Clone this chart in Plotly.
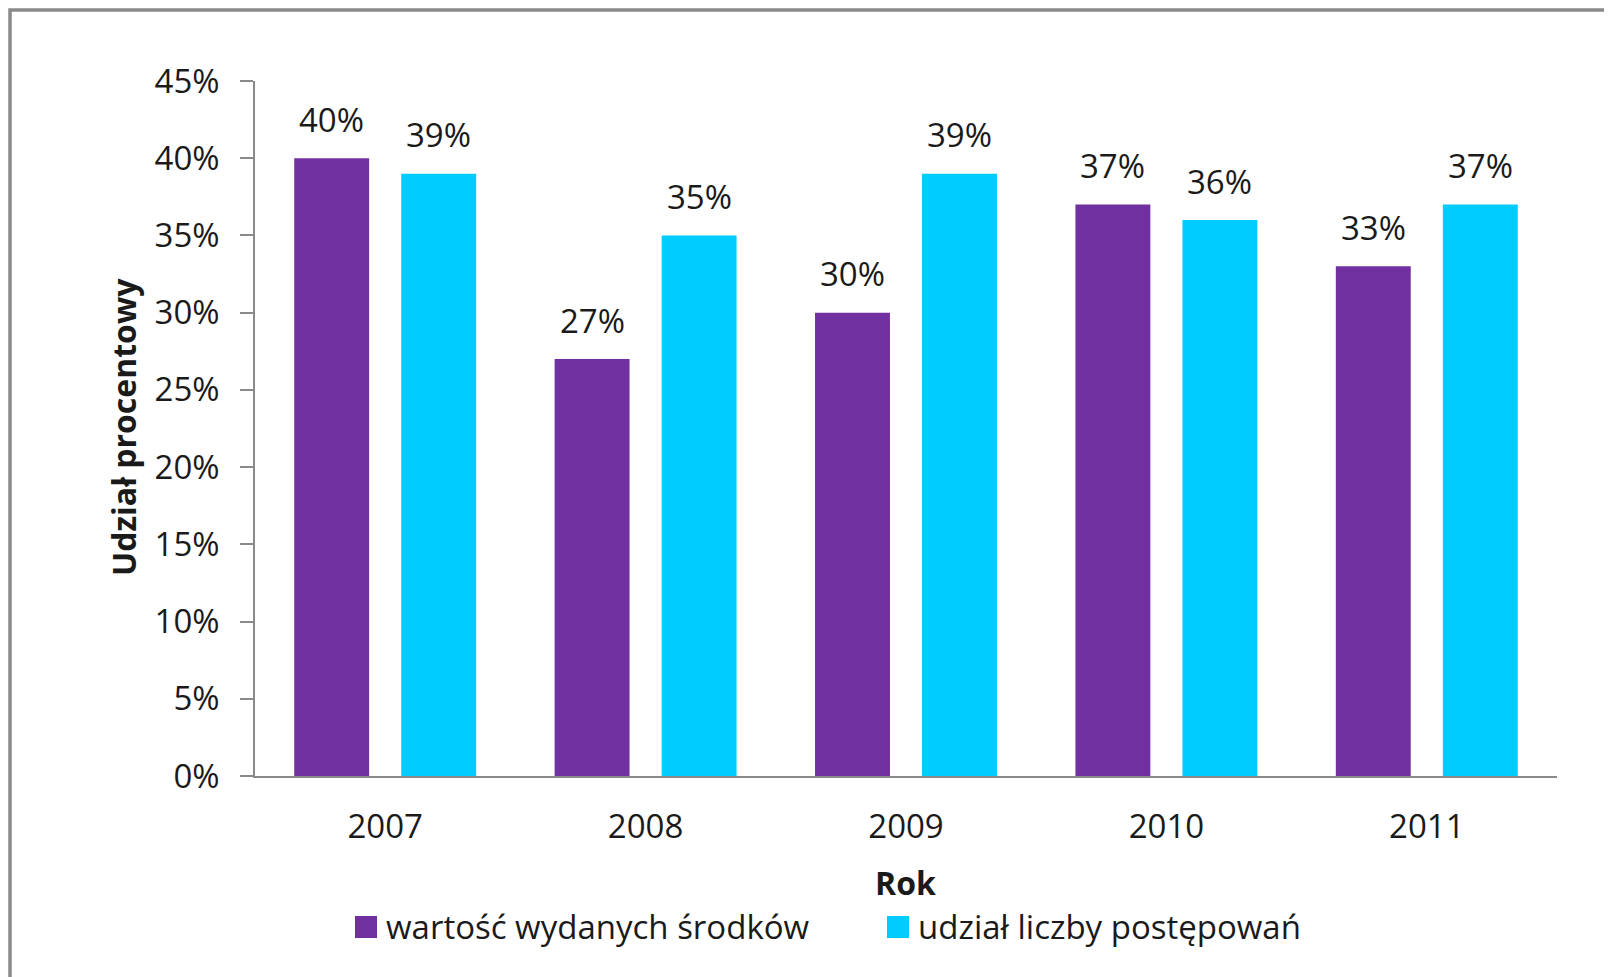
import plotly.graph_objects as go

years = ["2007", "2008", "2009", "2010", "2011"]
wartosc = [0.40, 0.27, 0.30, 0.37, 0.33]
udzial = [0.39, 0.35, 0.39, 0.36, 0.37]
series_names = ["wartość wydanych środków", "udział liczby postępowań"]
series_colors = ["#7030A0", "#00CCFF"]
y_ticks = [0, 0.05, 0.10, 0.15, 0.20, 0.25, 0.30, 0.35, 0.40, 0.45]

OFF = 8  # default body margin of the html page
W, H = 1612 - OFF, 977 - OFF
L, R, T, B = 255 - OFF, 55, 81 - OFF, 201
FONT = "Open Sans"
TXT = "#1a1a1a"
GRAY = "#8a8a8a"
plot_w = W - L - R
plot_h = H - T - B


def px(page_x):
    return (page_x - OFF - L) / plot_w


def py(page_y):
    return (H - B - (page_y - OFF)) / plot_h


fig = go.Figure()
for vals, name, col in zip([wartosc, udzial], series_names, series_colors):
    fig.add_trace(go.Bar(x=years, y=vals, name=name, marker_color=col,
                         marker_line_width=0, showlegend=False, hoverinfo="skip"))

# data labels
cat_w = plot_w / len(years)
bargap = 0.178
slot = cat_w * (1 - bargap) / 2
for i, vals in enumerate([wartosc, udzial]):
    shift = (i - 0.5) * slot
    for j, v in enumerate(vals):
        fig.add_annotation(x=j, y=v, xref="x", yref="y", text=f"{round(v*100)}%",
                           showarrow=False, xshift=shift, yshift=39, yanchor="middle",
                           font=dict(family=FONT, size=33, color=TXT))

# axis titles
fig.add_annotation(x=px(123), y=py(427), xref="paper", yref="paper", text="<b>Udział procentowy</b>",
                   textangle=-90, showarrow=False, font=dict(family=FONT, size=32, color=TXT),
                   xanchor="center", yanchor="middle")
fig.add_annotation(x=px(905), y=py(882), xref="paper", yref="paper", text="<b>Rok</b>",
                   showarrow=False, font=dict(family=FONT, size=32, color=TXT),
                   xanchor="center", yanchor="middle")

# legend (drawn manually for square size)
legend_pos = [(355, 384), (887, 916)]
for (sq_x, tx_x), name, col in zip(legend_pos, series_names, series_colors):
    fig.add_shape(type="rect", xref="paper", yref="paper",
                  x0=px(sq_x), x1=px(sq_x + 22), y0=py(938), y1=py(916),
                  fillcolor=col, line_width=0)
    fig.add_annotation(x=px(tx_x), y=py(927), xref="paper", yref="paper", text=name,
                       showarrow=False, xanchor="left", yanchor="middle",
                       font=dict(family=FONT, size=33, color=TXT))

# outer border (left and top edges visible, the rest runs off the page)
fig.add_shape(type="rect", xref="paper", yref="paper",
              x0=px(10), x1=px(1700), y0=py(1050), y1=py(10),
              line=dict(color=GRAY, width=3.5), fillcolor="rgba(0,0,0,0)", layer="below")

fig.update_layout(
    width=W, height=H,
    margin=dict(l=L, r=R, t=T, b=B, autoexpand=False),
    paper_bgcolor="white", plot_bgcolor="white",
    barmode="group", bargap=bargap, bargroupgap=0.3,
    font=dict(family=FONT, size=33, color=TXT),
    showlegend=False,
)
fig.update_xaxes(type="category", range=[-0.5, len(years) - 0.5], autorange=False,
                 showline=True, linecolor=GRAY, linewidth=1.5, ticks="",
                 showgrid=False, tickfont=dict(family=FONT, size=33, color=TXT),
                 ticklabelstandoff=21)
fig.update_yaxes(range=[0, 0.45], autorange=False, tickvals=y_ticks, tickformat=".0%",
                 showgrid=False, showline=True, linecolor=GRAY, linewidth=1.5,
                 ticks="outside", ticklen=13, tickcolor=GRAY, tickwidth=1.5, zeroline=False,
                 tickfont=dict(family=FONT, size=33, color=TXT), ticklabelstandoff=14)

fig.write_html("out.html")
